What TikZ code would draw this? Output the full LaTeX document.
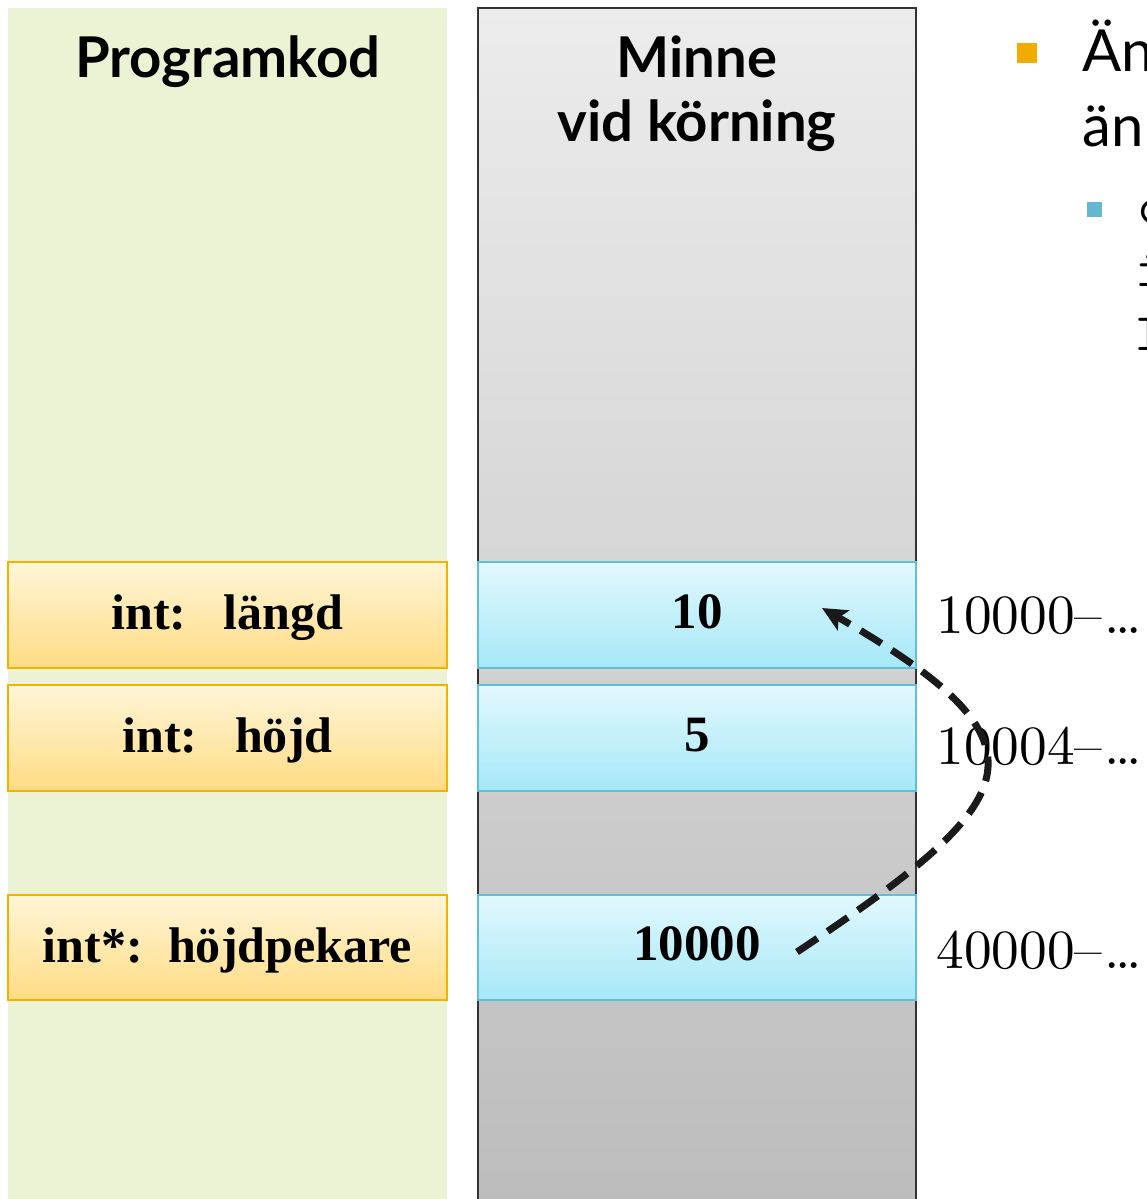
\documentclass[tikz,border=0pt]{standalone}
\usepackage{fontspec}
\newfontfamily\gill{Lato}
\newfontfamily\serifb{Liberation Serif}
\newfontfamily\lmten{lmroman10-regular.otf}
\usetikzlibrary{arrows.meta}
\definecolor{progbg}{RGB}{236,243,213}
\definecolor{memtop}{RGB}{236,236,236}
\definecolor{membot}{RGB}{188,188,188}
\definecolor{orgtop}{RGB}{255,245,216}
\definecolor{orgbot}{RGB}{255,220,132}
\definecolor{orgline}{RGB}{242,178,0}
\definecolor{bluetop}{RGB}{226,248,253}
\definecolor{bluebot}{RGB}{166,232,248}
\definecolor{blueline}{RGB}{96,190,214}
\definecolor{bul1}{RGB}{240,172,0}
\definecolor{bul2}{RGB}{98,184,208}
\definecolor{ptrcol}{RGB}{26,26,26}
\newcommand{\tdots}{.\kern-2.5pt.\kern-2.5pt.}
\tikzset{
  varbox/.style={draw=orgline, line width=1pt, top color=orgtop, bottom color=orgbot,
    minimum width=8.78cm, minimum height=2.12cm, inner sep=0pt,
    font=\serifb\fontsize{28.5}{30}\selectfont\bfseries, text height=17pt, text depth=0pt},
  cellbox/.style={draw=blueline, line width=1pt, top color=bluetop, bottom color=bluebot,
    minimum width=8.76cm, minimum height=2.12cm, inner sep=0pt,
    font=\serifb\fontsize{29}{30}\selectfont\bfseries, text height=15pt, text depth=0pt},
  title/.style={font=\gill\fontsize{32}{34}\selectfont\bfseries, anchor=base, inner sep=0pt},
  addr/.style={font=\lmten\fontsize{31.5}{34}\selectfont, anchor=base west, inner sep=0pt},
  bultext/.style={font=\gill\fontsize{33}{35}\selectfont, anchor=base west, inner sep=0pt},
  subtext/.style={font=\ttfamily\fontsize{30}{32}\selectfont, anchor=base west, inner sep=0pt},
  ptr/.style={draw=ptrcol, line width=4pt, dash pattern=on 14pt off 7pt,
    -{Stealth[length=14pt,width=13pt,inset=3pt]}}
}
\begin{document}
\begin{tikzpicture}[x=0.02cm, y=-0.02cm]
\useasboundingbox (0,0) rectangle (1146,1199);
\clip (0,0) rectangle (1146,1199);
\fill[white] (0,0) rectangle (1146,1199);
% columns
\fill[progbg] (8,8) rectangle (447,1210);
\shade[top color=memtop, bottom color=membot, draw=black!80, line width=1.2pt]
  (478,1210) -- (478,8) -- (916,8) -- (916,1210);
% titles
\node[title] (tprog) at (228,78) {Programkod};
\node[title] (tmem1) at (697,78) {Minne};
\node[title] (tmem2) at (697,142) {vid körning};
% variables
\node[varbox] (v1) at (227.5,615) {int:\hspace{0.75em}längd};
\node[varbox] (v2) at (227.5,738) {int:\hspace{0.75em}höjd};
\node[varbox, minimum height=2.1cm] (v3) at (227.5,947.5) {int*:\hspace{0.5em}höjdpekare};
% memory cells
\node[cellbox] (m1) at (697,615) {10};
\node[cellbox] (m2) at (697,738) {5};
\node[cellbox, minimum height=2.1cm] (m3) at (697,947.5) {10000};
% addresses
\node[addr] (a1) at (936,633) {10000–\kern1pt\tdots};
\node[addr] (a2) at (936,764) {10004–\kern1pt\tdots};
\node[addr] (a3) at (936,968) {40000–\kern1pt\tdots};
% bullets
\fill[bul1] (1017,43) rectangle (1037,63);
\node[bultext] (b1) at (1082,72) {Än};
\node[bultext] (b2) at (1082,147) {än};
\fill[bul2] (1087,202) rectangle (1102,217);
\node[subtext] (s1) at (1137,224) {c};
\node[subtext] (s2) at (1135,287) {i};
\node[subtext] (s3) at (1135,350) {l};
% pointer
\coordinate (ps) at (797,952);
\coordinate (pe) at (822,608);
\draw[ptr] (ps) .. controls (1026,799) and (1061,746) .. (pe);
\end{tikzpicture}
\end{document}
